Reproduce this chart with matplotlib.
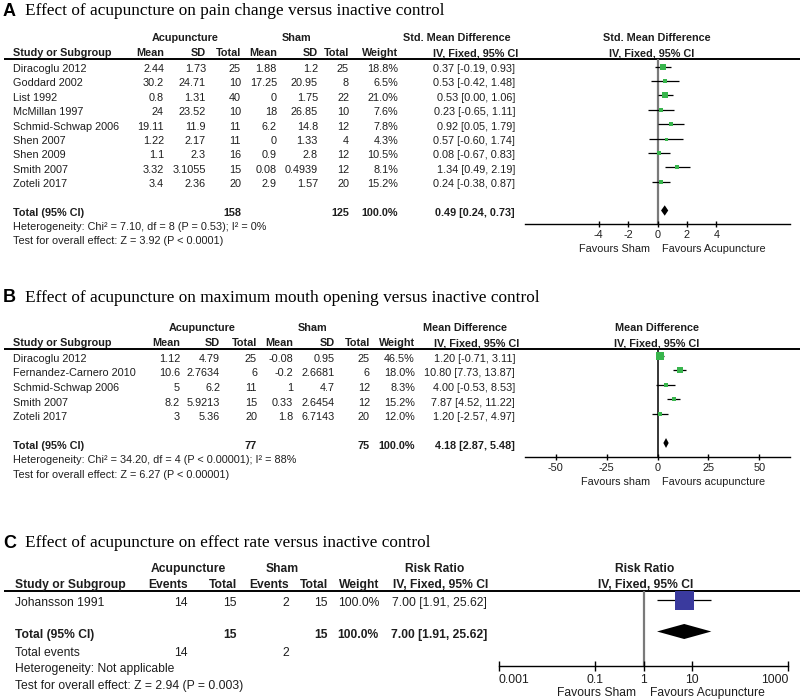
import matplotlib
matplotlib.use("Agg")
import matplotlib.pyplot as plt
import matplotlib.ticker
import numpy as np

# ---------------- Data: Panel A (pain change, SMD) ----------------
a_title = "Effect of acupuncture on pain change versus inactive control"
a_studies = ["Diracoglu 2012", "Goddard 2002", "List 1992", "McMillan 1997",
             "Schmid-Schwap 2006", "Shen 2007", "Shen 2009", "Smith 2007", "Zoteli 2017"]
a_acu_mean = ["2.44", "30.2", "0.8", "24", "19.11", "1.22", "1.1", "3.32", "3.4"]
a_acu_sd = ["1.73", "24.71", "1.31", "23.52", "11.9", "2.17", "2.3", "3.1055", "2.36"]
a_acu_n = [25, 10, 40, 10, 11, 11, 16, 15, 20]
a_sham_mean = ["1.88", "17.25", "0", "18", "6.2", "0", "0.9", "0.08", "2.9"]
a_sham_sd = ["1.2", "20.95", "1.75", "26.85", "14.8", "1.33", "2.8", "0.4939", "1.57"]
a_sham_n = [25, 8, 22, 10, 12, 4, 12, 12, 20]
a_weight = [18.8, 6.5, 21.0, 7.6, 7.8, 4.3, 10.5, 8.1, 15.2]
a_est = [0.37, 0.53, 0.53, 0.23, 0.92, 0.57, 0.08, 1.34, 0.24]
a_lo = [-0.19, -0.42, 0.00, -0.65, 0.05, -0.60, -0.67, 0.49, -0.38]
a_hi = [0.93, 1.48, 1.06, 1.11, 1.79, 1.74, 0.83, 2.19, 0.87]
a_total = [0.49, 0.24, 0.73]
a_total_n = [158, 125]
a_total_weight = 100.0
a_het = "Heterogeneity: Chi² = 7.10, df = 8 (P = 0.53); I² = 0%"
a_test = "Test for overall effect: Z = 3.92 (P < 0.0001)"
a_ticks = [-4, -2, 0, 2, 4]
a_favours = ["Favours Sham", "Favours Acupuncture"]

# ---------------- Data: Panel B (mouth opening, MD) ----------------
b_title = "Effect of acupuncture on maximum mouth opening versus inactive control"
b_studies = ["Diracoglu 2012", "Fernandez-Carnero 2010", "Schmid-Schwap 2006", "Smith 2007", "Zoteli 2017"]
b_acu_mean = ["1.12", "10.6", "5", "8.2", "3"]
b_acu_sd = ["4.79", "2.7634", "6.2", "5.9213", "5.36"]
b_acu_n = [25, 6, 11, 15, 20]
b_sham_mean = ["-0.08", "-0.2", "1", "0.33", "1.8"]
b_sham_sd = ["0.95", "2.6681", "4.7", "2.6454", "6.7143"]
b_sham_n = [25, 6, 12, 12, 20]
b_weight = [46.5, 18.0, 8.3, 15.2, 12.0]
b_est = [1.20, 10.80, 4.00, 7.87, 1.20]
b_lo = [-0.71, 7.73, -0.53, 4.52, -2.57]
b_hi = [3.11, 13.87, 8.53, 11.22, 4.97]
b_total = [4.18, 2.87, 5.48]
b_total_n = [77, 75]
b_total_weight = 100.0
b_het = "Heterogeneity: Chi² = 34.20, df = 4 (P < 0.00001); I² = 88%"
b_test = "Test for overall effect: Z = 6.27 (P < 0.00001)"
b_ticks = [-50, -25, 0, 25, 50]
b_favours = ["Favours sham", "Favours acupuncture"]

# ---------------- Data: Panel C (effect rate, RR) ----------------
c_title = "Effect of acupuncture on effect rate versus inactive control"
c_studies = ["Johansson 1991"]
c_acu_events = [14]
c_acu_n = [15]
c_sham_events = [2]
c_sham_n = [15]
c_weight = [100.0]
c_est = [7.00]
c_lo = [1.91]
c_hi = [25.62]
c_total = [7.00, 1.91, 25.62]
c_total_n = [15, 15]
c_total_weight = 100.0
c_total_events = [14, 2]
c_het = "Heterogeneity: Not applicable"
c_test = "Test for overall effect: Z = 2.94 (P = 0.003)"
c_ticks = [0.001, 0.1, 1, 10, 1000]
c_ticklabels = ["0.001", "0.1", "1", "10", "1000"]
c_favours = ["Favours Sham", "Favours Acupuncture"]

# ---------------- Style ----------------
W, H, DPI = 800, 700, 100
SANS = "Liberation Sans"
SERIF = "Liberation Serif"
TXT = "#1e1e1e"
GREEN = "#38b54c"
BLUE = "#3a3a9e"
FS_AB = 7.8
FS_C = 8.7
FS_TITLE = 12.4

fig = plt.figure(figsize=(W / DPI, H / DPI), dpi=DPI)
fig.patch.set_facecolor("white")
bg = fig.add_axes([0, 0, 1, 1])
bg.set_xlim(0, W)
bg.set_ylim(H, 0)
bg.axis("off")


def T(x, y, s, ha="left", bold=False, size=FS_AB, family=SANS, color=TXT):
    bg.text(x, y, s, ha=ha, va="center", fontsize=size, family=family,
            fontweight="bold" if bold else "normal", color=color)


def hline(y, x0=4, x1=800, lw=1.4):
    bg.plot([x0, x1], [y, y], color="black", lw=lw, solid_capstyle="butt")


def ci_text(e, l, h):
    return f"{e:.2f} [{l:.2f}, {h:.2f}]"


def forest_axes(x0, x1, y0, y1, row0, drow):
    ax = fig.add_axes([x0 / W, 1 - y1 / H, (x1 - x0) / W, (y1 - y0) / H])
    ax.set_ylim((y1 - row0) / drow, (y0 - row0) / drow)
    ax.patch.set_alpha(0)
    for s in ("top", "left", "right"):
        ax.spines[s].set_visible(False)
    ax.spines["bottom"].set_linewidth(1.0)
    ax.set_yticks([])
    ax.tick_params(axis="x", direction="inout", length=5, width=1.0, pad=1.5,
                   labelcolor=TXT)
    return ax


def draw_diamond(ax, est, lo, hi, row, half):
    ax.fill([lo, est, hi, est], [row, row - half, row, row + half],
            color="black", zorder=4, lw=0)


# =================== Panel A ===================
T(3, 11, "A", bold=True, size=13, color="black")
T(25, 11, a_title, family=SERIF, size=FS_TITLE, color="black")
T(185, 38, "Acupuncture", ha="center", bold=True)
T(297, 38, "Sham", ha="center", bold=True)
T(457, 38, "Std. Mean Difference", ha="center", bold=True)
T(657, 38, "Std. Mean Difference", ha="center", bold=True)
yh = 53
T(13, yh, "Study or Subgroup", bold=True)
for xr, s in [(164, "Mean"), (206, "SD"), (241, "Total"), (277, "Mean"),
              (318, "SD"), (349, "Total"), (398, "Weight")]:
    T(xr, yh, s, ha="right", bold=True)
T(476, yh, "IV, Fixed, 95% CI", ha="center", bold=True)
T(652, yh, "IV, Fixed, 95% CI", ha="center", bold=True)
hline(58.5)

for i, st in enumerate(a_studies):
    y = 69 + 14.4 * i
    T(13, y, st)
    T(164, y, a_acu_mean[i], ha="right")
    T(206, y, a_acu_sd[i], ha="right")
    T(241, y, str(a_acu_n[i]), ha="right")
    T(277, y, a_sham_mean[i], ha="right")
    T(318, y, a_sham_sd[i], ha="right")
    T(349, y, str(a_sham_n[i]), ha="right")
    T(398, y, f"{a_weight[i]:.1f}%", ha="right")
    T(515, y, ci_text(a_est[i], a_lo[i], a_hi[i]), ha="right")
ytot = 69 + 14.4 * 10
T(13, ytot, "Total (95% CI)", bold=True)
T(241, ytot, str(a_total_n[0]), ha="right", bold=True)
T(349, ytot, str(a_total_n[1]), ha="right", bold=True)
T(398, ytot, f"{a_total_weight:.1f}%", ha="right", bold=True)
T(515, ytot, ci_text(*a_total), ha="right", bold=True)
T(13, 227, a_het)
T(13, 241, a_test)

axA = forest_axes(525, 790, 58.5, 224, 66.5, 14.4)
axA.set_xlim(-9, 9)
axA.axvline(0, color="#7a7a7a", lw=1.6, zorder=1)
rowsA = np.arange(len(a_studies))
axA.hlines(rowsA, a_lo, a_hi, color="black", lw=0.9, zorder=2)
for r, e, w in zip(rowsA, a_est, a_weight):
    side = max(3.0, 1.2 * np.sqrt(w))
    axA.plot(e, r, marker="s", ms=side * 0.72, color=GREEN, mec=GREEN, mew=0, zorder=3)
draw_diamond(axA, a_total[0], a_total[1], a_total[2], 10, 0.36)
axA.set_xticks(a_ticks)
axA.set_xticklabels([str(t) for t in a_ticks], fontsize=FS_AB, family=SANS)
T(650, 249, a_favours[0], ha="right")
T(662, 249, a_favours[1], ha="left")

# =================== Panel B ===================
T(3, 298, "B", bold=True, size=13, color="black")
T(25, 298, b_title, family=SERIF, size=FS_TITLE, color="black")
T(202, 328, "Acupuncture", ha="center", bold=True)
T(313, 328, "Sham", ha="center", bold=True)
T(465, 328, "Mean Difference", ha="center", bold=True)
T(657, 328, "Mean Difference", ha="center", bold=True)
yh = 343
T(13, yh, "Study or Subgroup", bold=True)
for xr, s in [(180, "Mean"), (220, "SD"), (257, "Total"), (293, "Mean"),
              (335, "SD"), (370, "Total"), (415, "Weight")]:
    T(xr, yh, s, ha="right", bold=True)
T(477, yh, "IV, Fixed, 95% CI", ha="center", bold=True)
T(657, yh, "IV, Fixed, 95% CI", ha="center", bold=True)
hline(348.5)

for i, st in enumerate(b_studies):
    y = 359 + 14.5 * i
    T(13, y, st)
    T(180, y, b_acu_mean[i], ha="right")
    T(220, y, b_acu_sd[i], ha="right")
    T(257, y, str(b_acu_n[i]), ha="right")
    T(293, y, b_sham_mean[i], ha="right")
    T(335, y, b_sham_sd[i], ha="right")
    T(370, y, str(b_sham_n[i]), ha="right")
    T(415, y, f"{b_weight[i]:.1f}%", ha="right")
    T(515, y, ci_text(b_est[i], b_lo[i], b_hi[i]), ha="right")
ytot = 359 + 14.5 * 6
T(13, ytot, "Total (95% CI)", bold=True)
T(257, ytot, str(b_total_n[0]), ha="right", bold=True)
T(370, ytot, str(b_total_n[1]), ha="right", bold=True)
T(415, ytot, f"{b_total_weight:.1f}%", ha="right", bold=True)
T(515, ytot, ci_text(*b_total), ha="right", bold=True)
T(13, 460, b_het)
T(13, 475, b_test)

axB = forest_axes(525, 790, 348.5, 457, 356, 14.5)
axB.set_xlim(-65, 65)
axB.axvline(0, color="black", lw=1.1, zorder=1)
rowsB = np.arange(len(b_studies))
axB.hlines(rowsB, b_lo, b_hi, color="black", lw=0.9, zorder=2)
for r, e, w in zip(rowsB, b_est, b_weight):
    side = max(3.0, 1.2 * np.sqrt(w))
    axB.plot(e, r, marker="s", ms=side * 0.72, color=GREEN, mec=GREEN, mew=0, zorder=3)
draw_diamond(axB, b_total[0], b_total[1], b_total[2], 6, 0.34)
axB.set_xticks(b_ticks)
axB.set_xticklabels([str(t) for t in b_ticks], fontsize=FS_AB, family=SANS)
T(650, 482, b_favours[0], ha="right")
T(662, 482, b_favours[1], ha="left")

# =================== Panel C ===================
T(3, 543, "C", bold=True, size=13, color="black")
T(25, 543, c_title, family=SERIF, size=FS_TITLE, color="black")
T(188, 569, "Acupuncture", ha="center", bold=True, size=FS_C)
T(282, 569, "Sham", ha="center", bold=True, size=FS_C)
T(435, 569, "Risk Ratio", ha="center", bold=True, size=FS_C)
T(645, 569, "Risk Ratio", ha="center", bold=True, size=FS_C)
yh = 585
T(15, yh, "Study or Subgroup", bold=True, size=FS_C)
for xr, s in [(188, "Events"), (237, "Total"), (289, "Events"), (328, "Total"),
              (379, "Weight")]:
    T(xr, yh, s, ha="right", bold=True, size=FS_C)
T(441, yh, "IV, Fixed, 95% CI", ha="center", bold=True, size=FS_C)
T(646, yh, "IV, Fixed, 95% CI", ha="center", bold=True, size=FS_C)
hline(590.5)

for i, st in enumerate(c_studies):
    y = 603 + 16 * i
    T(15, y, st, size=FS_C)
    T(188, y, str(c_acu_events[i]), ha="right", size=FS_C)
    T(237, y, str(c_acu_n[i]), ha="right", size=FS_C)
    T(289, y, str(c_sham_events[i]), ha="right", size=FS_C)
    T(328, y, str(c_sham_n[i]), ha="right", size=FS_C)
    T(379, y, f"{c_weight[i]:.1f}%", ha="right", size=FS_C)
    T(487, y, ci_text(c_est[i], c_lo[i], c_hi[i]), ha="right", size=FS_C)
ytot = 603 + 16 * 2
T(15, ytot, "Total (95% CI)", bold=True, size=FS_C)
T(237, ytot, str(c_total_n[0]), ha="right", bold=True, size=FS_C)
T(328, ytot, str(c_total_n[1]), ha="right", bold=True, size=FS_C)
T(379, ytot, f"{c_total_weight:.1f}%", ha="right", bold=True, size=FS_C)
T(487, ytot, ci_text(*c_total), ha="right", bold=True, size=FS_C)
T(15, 653, "Total events", size=FS_C)
T(188, 653, str(c_total_events[0]), ha="right", size=FS_C)
T(289, 653, str(c_total_events[1]), ha="right", size=FS_C)
T(15, 669, c_het, size=FS_C)
T(15, 686, c_test, size=FS_C)

axC = forest_axes(499, 788, 590.5, 666, 599.5, 16)
axC.set_xscale("log")
axC.set_xlim(1e-3, 1e3)
axC.axvline(1, color="#7a7a7a", lw=1.6, zorder=1)
rowsC = np.arange(len(c_studies))
axC.hlines(rowsC, c_lo, c_hi, color="black", lw=0.9, zorder=2)
for r, e, w in zip(rowsC, c_est, c_weight):
    side = 1.9 * np.sqrt(w)
    axC.plot(e, r, marker="s", ms=side * 0.72, color=BLUE, mec=BLUE, mew=0, zorder=3)
draw_diamond(axC, c_total[0], c_total[1], c_total[2], 2, 0.47)
axC.set_xticks(c_ticks)
axC.xaxis.set_minor_locator(matplotlib.ticker.NullLocator())
labs = axC.set_xticklabels(c_ticklabels, fontsize=FS_C, family=SANS)
labs[0].set_ha("left")
labs[-1].set_ha("right")
axC.tick_params(axis="x", length=7, pad=2)
T(636, 693, c_favours[0], ha="right", size=FS_C)
T(650, 693, c_favours[1], ha="left", size=FS_C)

fig.savefig("out.png", dpi=DPI, facecolor="white")
